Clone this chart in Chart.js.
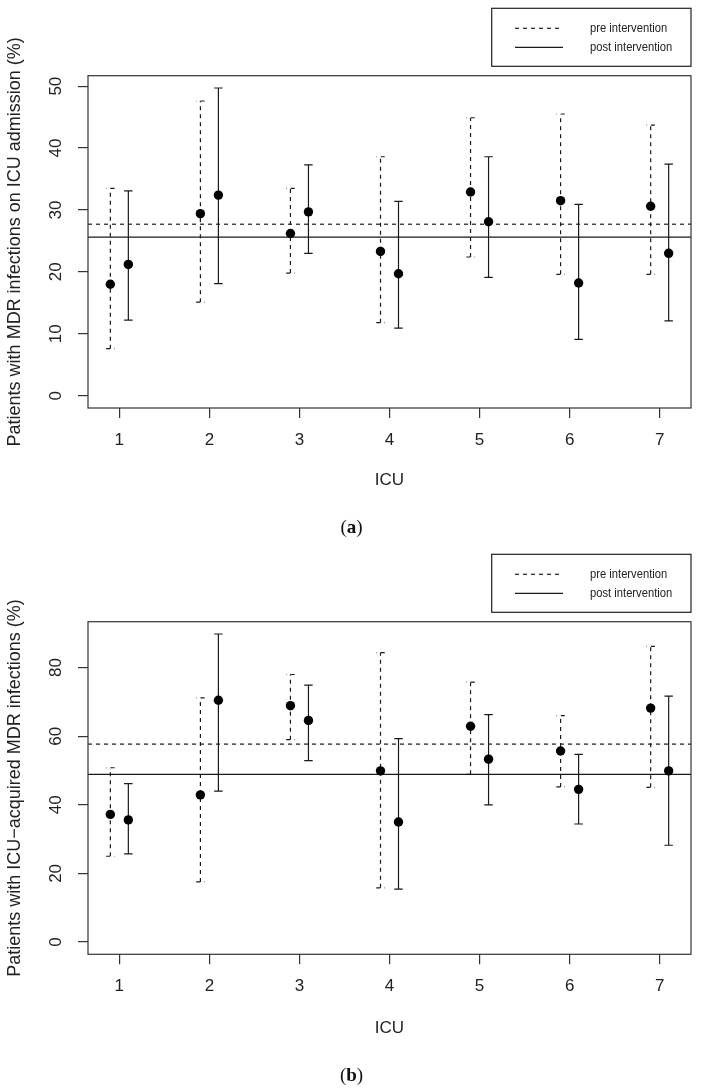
<!DOCTYPE html>
<html>
<head>
<meta charset="utf-8">
<script src="https://cdn.jsdelivr.net/npm/chart.js@4.4.1/dist/chart.umd.min.js"></script>
<style>
  html, body { margin: 0; padding: 0; background: #fff; }
  body { width: 703px; height: 1089px; position: relative; overflow: hidden; }
  canvas { position: absolute; left: 0; }
  #chartA { top: 0; }
  #chartB { top: 544px; }
  .caption {
    position: absolute; left: 0; width: 703px; text-align: center;
    font-family: 'Liberation Serif', 'DejaVu Serif', serif; font-size: 19px;
    line-height: 22px; color: #111;
  }
</style>
</head>
<body>
<canvas id="chartA" width="703" height="545"></canvas>
<canvas id="chartB" width="703" height="545"></canvas>
<div class="caption" style="top:516px">(<b>a</b>)</div>
<div class="caption" style="top:1064px">(<b>b</b>)</div>
<script>
const icus = [1, 2, 3, 4, 5, 6, 7];

// (a) patients with MDR infections on ICU admission (%)
const admPre = [18.0, 29.4, 26.2, 23.3, 32.9, 31.5, 30.6];
const admPreLow = [7.6, 15.1, 19.8, 11.8, 22.4, 19.6, 19.6];
const admPreHigh = [33.5, 47.6, 33.5, 38.6, 44.9, 45.5, 43.7];
const admPost = [21.2, 32.4, 29.7, 19.7, 28.1, 18.2, 23.0];
const admPostLow = [12.2, 18.1, 23.0, 10.9, 19.1, 9.1, 12.1];
const admPostHigh = [33.1, 49.7, 37.3, 31.4, 38.6, 30.9, 37.4];
const admPreMean = 27.7;
const admPostMean = 25.6;
const admTicks = [0, 10, 20, 30, 40, 50];

// (b) patients with ICU-acquired MDR infections (%)
const acqPre = [37.2, 42.9, 68.9, 49.9, 62.9, 55.7, 68.2];
const acqPreLow = [25.0, 17.5, 59.0, 15.8, 48.9, 45.2, 45.1];
const acqPreHigh = [50.8, 71.2, 78.0, 84.4, 75.8, 66.0, 86.2];
const acqPost = [35.6, 70.5, 64.6, 35.0, 53.3, 44.5, 49.9];
const acqPostLow = [25.7, 44.0, 52.9, 15.4, 40.0, 34.4, 28.2];
const acqPostHigh = [46.2, 89.8, 74.9, 59.3, 66.3, 54.7, 71.7];
const acqPreMean = 57.7;
const acqPostMean = 48.9;
const acqTicks = [0, 20, 40, 60, 80];

const legendLabels = ['pre intervention', 'post intervention'];

const SHIFT = 0.1;      // pre sits left of the ICU, post right
const CAP = 0.047;      // half width of the bar ends
const X_MIN = 0.652, X_MAX = 7.348;
const INK = '#1a1a1a';
const DASH = [4, 4];
const SANS = "'Liberation Sans', Arial, sans-serif";

Chart.defaults.font.family = SANS;
Chart.defaults.color = '#222';

function points(values, shift) {
  return icus.map((icu, i) => ({ x: icu + shift, y: values[i] }));
}

// all the bars of one series as a single line, pieces split by nulls
function bars(lows, highs, shift) {
  const pts = [];
  icus.forEach((icu, i) => {
    const x = icu + shift;
    pts.push({ x, y: lows[i] }, { x, y: highs[i] }, { x, y: null });
    pts.push({ x: x + CAP, y: highs[i] }, { x: x - CAP, y: highs[i] }, { x, y: null });
    pts.push({ x: x - CAP, y: lows[i] }, { x: x + CAP, y: lows[i] }, { x, y: null });
  });
  return pts;
}

const rFrame = {
  id: 'rFrame',
  afterDraw(chart, args, o) {
    const { ctx, chartArea: a } = chart;
    const y = chart.scales.y;
    ctx.save();
    ctx.strokeStyle = '#333';
    ctx.lineWidth = 1.2;
    ctx.strokeRect(a.left, a.top, a.right - a.left, a.bottom - a.top);

    // y tick labels, turned like R does
    ctx.fillStyle = '#222';
    ctx.font = '17px ' + SANS;
    ctx.textAlign = 'center';
    ctx.textBaseline = 'middle';
    y.ticks.forEach(t => {
      ctx.save();
      ctx.translate(56, y.getPixelForValue(t.value));
      ctx.rotate(-Math.PI / 2);
      ctx.fillText(String(t.value), 0, 0);
      ctx.restore();
    });

    // legend box
    const lx = 491.7, lw = 199.3, ly = o.top, lh = 58;
    ctx.strokeStyle = '#222';
    ctx.strokeRect(lx, ly, lw, lh);
    ctx.font = '13.5px ' + SANS;
    ctx.textAlign = 'left';
    legendLabels.forEach((label, i) => {
      const ry = ly + 20 + i * 19;
      ctx.strokeStyle = INK;
      ctx.setLineDash(i === 0 ? DASH : []);
      ctx.beginPath();
      ctx.moveTo(515, ry);
      ctx.lineTo(563, ry);
      ctx.stroke();
      // narrow face, as in the original legend
      ctx.save();
      ctx.translate(590, ry);
      ctx.scale(0.83, 1);
      ctx.fillText(label, 0, 0);
      ctx.restore();
    });
    ctx.restore();
  }
};

function drawPanel(id, p) {
  const line = { showLine: true, spanGaps: false, pointRadius: 0, borderColor: INK, borderWidth: 1.2 };
  const dot = { showLine: false, pointRadius: 4.7, backgroundColor: '#000', borderWidth: 0 };
  return new Chart(document.getElementById(id), {
    type: 'scatter',
    data: {
      datasets: [
        { ...dot, data: points(p.pre, -SHIFT) },
        { ...dot, data: points(p.post, SHIFT) },
        { ...line, borderDash: DASH, data: bars(p.preLow, p.preHigh, -SHIFT) },
        { ...line, data: bars(p.postLow, p.postHigh, SHIFT) },
        { ...line, borderDash: DASH, data: [{ x: X_MIN, y: p.preMean }, { x: X_MAX, y: p.preMean }] },
        { ...line, data: [{ x: X_MIN, y: p.postMean }, { x: X_MAX, y: p.postMean }] }
      ]
    },
    options: {
      responsive: false,
      animation: false,
      events: [],
      layout: { padding: { top: p.plotTop, right: 12, bottom: 0, left: 0 } },
      plugins: {
        legend: { display: false },
        tooltip: { enabled: false },
        rFrame: { top: p.legendTop }
      },
      scales: {
        x: {
          type: 'linear', min: X_MIN, max: X_MAX,
          afterBuildTicks: s => { s.ticks = icus.map(v => ({ value: v })); },
          afterFit: s => { s.height = p.xHeight; },
          border: { display: false },
          grid: { drawOnChartArea: false, drawTicks: true, tickLength: 10, color: '#333', lineWidth: 1.2 },
          ticks: { font: { size: 17 }, padding: 12, callback: v => String(v) },
          title: { display: true, text: 'ICU', font: { size: 17 }, padding: { top: 0, bottom: p.xTitlePad } }
        },
        y: {
          min: p.yMin, max: p.yMax,
          afterBuildTicks: s => { s.ticks = p.ticks.map(v => ({ value: v })); },
          afterFit: s => { s.width = 88; },
          border: { display: false },
          grid: { drawOnChartArea: false, drawTicks: true, tickLength: 10, color: '#333', lineWidth: 1.2 },
          ticks: { display: false },
          title: { display: true, text: p.title, font: { size: 18 }, padding: { top: 4.2, bottom: 0 } }
        }
      }
    },
    plugins: [rFrame]
  });
}

drawPanel('chartA', {
  pre: admPre, preLow: admPreLow, preHigh: admPreHigh,
  post: admPost, postLow: admPostLow, postHigh: admPostHigh,
  preMean: admPreMean, postMean: admPostMean, ticks: admTicks,
  yMin: -1.99, yMax: 51.69,
  title: 'Patients with MDR infections on ICU admission (%)',
  plotTop: 75.7, xHeight: 137, xTitlePad: 54.8, legendTop: 8.3
});

drawPanel('chartB', {
  pre: acqPre, preLow: acqPreLow, preHigh: acqPreHigh,
  post: acqPost, postLow: acqPostLow, postHigh: acqPostHigh,
  preMean: acqPreMean, postMean: acqPostMean, ticks: acqTicks,
  yMin: -3.59, yMax: 93.39,
  title: 'Patients with ICU\u2212acquired MDR infections (%)',
  plotTop: 77.7, xHeight: 134.7, xTitlePad: 50.8, legendTop: 10.3
});
</script>
</body>
</html>
